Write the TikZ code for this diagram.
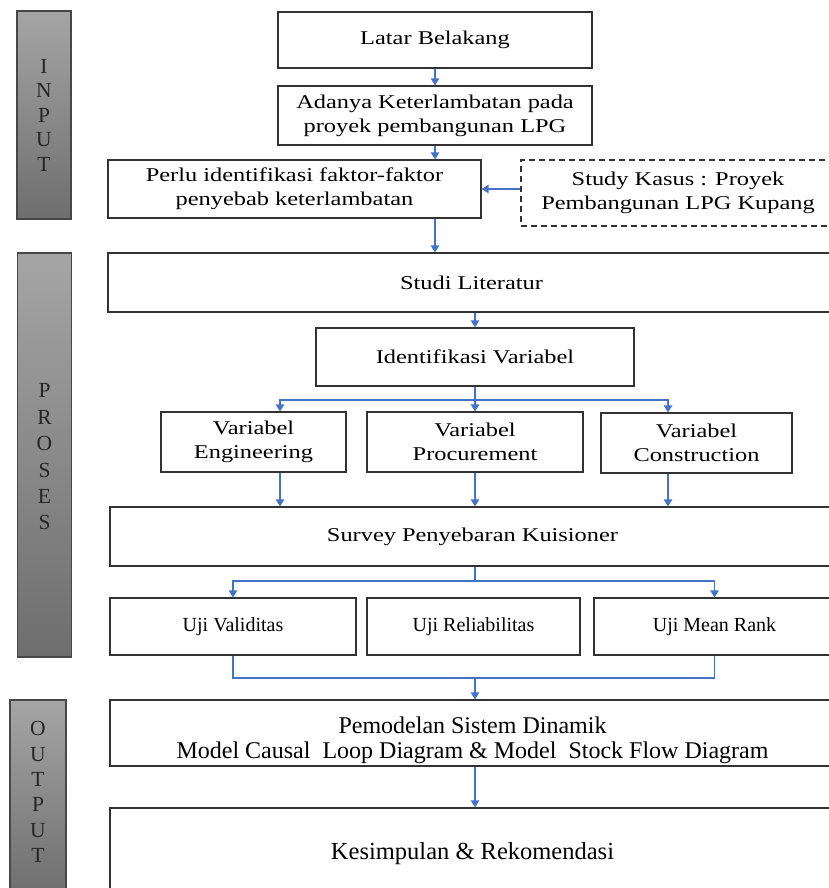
\documentclass[tikz,border=0pt]{standalone}
\usepackage{fontspec}
\setmainfont{Liberation Serif}
\newfontfamily\widefont{Liberation Serif}[FakeStretch=1.25]
\usetikzlibrary{arrows.meta,calc}
\definecolor{flowblue}{RGB}{68,114,196}
\definecolor{boxline}{RGB}{50,50,50}
\definecolor{bartop}{RGB}{165,165,165}
\definecolor{barbot}{RGB}{110,110,110}
\begin{document}
\begin{tikzpicture}[x=1pt,y=-1pt,
  box/.style={draw=boxline, line width=1.2pt, rectangle, inner sep=0pt, align=center, fill=white,
    font={\widefont\fontsize{19.5}{24}\selectfont}},
  plainbox/.style={box, font={\fontsize{24}{26}\selectfont}},
  ujibox/.style={box, font={\fontsize{20}{24}\selectfont}},
  dashbox/.style={box, dash pattern=on 6pt off 4pt},
  sidebar/.style={draw=boxline!90, line width=1.2pt, rectangle, inner sep=0pt,
    top color=bartop, bottom color=barbot, minimum width=54pt},
  barletters/.style={align=center, inner sep=0pt, font={\fontsize{21.5}{24.5}\selectfont}, text=black!85},
  conn/.style={draw=flowblue, line width=1.3pt},
  arr/.style={conn, -{Triangle[length=7pt,width=8.5pt]}}
]
\useasboundingbox (0,0) rectangle (829,888);

% side bars
\node[sidebar, minimum height=208pt] (binput) at (44,115) {};
\node[barletters] (tinput) at (44,115) {I\\N\\P\\U\\T};
\node[sidebar, minimum height=404pt] (bproses) at (44.5,455) {};
\node[barletters, font={\fontsize{21.5}{26.4}\selectfont}] (tproses) at (44.5,457) {P\\R\\O\\S\\E\\S};
\node[sidebar, minimum width=56pt, minimum height=195pt] (boutput) at (38,797.5) {};
\node[barletters, font={\fontsize{21.5}{25.4}\selectfont}] (toutput) at (38,792) {O\\U\\T\\P\\U\\T};

% main boxes
\node[box, minimum width=314pt, minimum height=56pt] (latar) at (435,40) {Latar Belakang};
\node[box, minimum width=314pt, minimum height=59pt] (adanya) at (435,115.5) {Adanya Keterlambatan pada\\proyek pembangunan LPG};
\node[box, minimum width=373pt, minimum height=58pt] (perlu) at (294.5,189) {Perlu identifikasi faktor-faktor\\penyebab keterlambatan};
\node[dashbox, minimum width=314pt, minimum height=66pt] (study) at (678,193) {Study Kasus : Proyek\\Pembangunan LPG Kupang};
\node[box, minimum width=727pt, minimum height=59pt] (studi) at (471.5,282.5) {Studi Literatur};
\node[box, minimum width=318pt, minimum height=58pt] (ident) at (475,357) {Identifikasi Variabel};
\node[box, minimum width=185pt, minimum height=60pt] (eng) at (253.5,442) {Variabel\\Engineering};
\node[box, minimum width=216pt, minimum height=60pt] (proc) at (475,442) {Variabel\\Procurement};
\node[box, minimum width=191pt, minimum height=60pt] (cons) at (696.5,443) {Variabel\\Construction};
\node[box, minimum width=725pt, minimum height=59pt] (survey) at (472.5,536.5) {Survey Penyebaran Kuisioner};
\node[ujibox, minimum width=246pt, minimum height=57pt] (ujiv) at (233,626.5) {Uji Validitas};
\node[ujibox, minimum width=213pt, minimum height=57pt] (ujir) at (473.5,626.5) {Uji Reliabilitas};
\node[ujibox, minimum width=241pt, minimum height=57pt] (ujim) at (714.5,626.5) {Uji Mean Rank};
\node[plainbox, minimum width=725pt, minimum height=66pt, text depth=0pt] (pem) at (472.5,733) {\raisebox{4pt}{\begin{tabular}{@{}c@{}}Pemodelan Sistem Dinamik\\[-1pt]Model Causal\ \ Loop Diagram \& Model\ \ Stock Flow Diagram\end{tabular}}};
\node[plainbox, font={\fontsize{24.5}{26}\selectfont}, minimum width=725pt, minimum height=91pt] (kes) at (472.5,853.5) {Kesimpulan \& Rekomendasi};

% bus points
\coordinate (busA) at (475,400);
\coordinate (busB) at (475,581);
\coordinate (busC) at (475,678);

% connectors
\draw[arr] (latar.south) -- (adanya.north);
\draw[arr] (adanya.south) -- (adanya.south |- perlu.north);
\draw[arr] (perlu.south -| adanya.south) -- (adanya.south |- studi.north);
\draw[arr] (study.west |- perlu.east) -- (perlu.east);
\draw[arr] (studi.south -| ident.north) -- (ident.north);

\draw[conn] (ident.south) -- (busA);
\draw[arr] (busA) -| ([xshift=26.5pt]eng.north);
\draw[arr] (busA) -- (proc.north);
\draw[arr] (busA) -| ([xshift=-28.5pt]cons.north);

\draw[arr] ([xshift=26.5pt]eng.south) -- ([xshift=26.5pt]eng.south |- survey.north);
\draw[arr] (proc.south) -- (proc.south |- survey.north);
\draw[arr] ([xshift=-28.5pt]cons.south) -- ([xshift=-28.5pt]cons.south |- survey.north);

\draw[conn] (survey.south -| busB) -- (busB);
\draw[arr] (busB) -| (ujiv.north);
\draw[arr] (busB) -| (ujim.north);

\draw[conn] (ujiv.south) |- (busC) -| (ujim.south);
\draw[arr] (busC) -- (busC |- pem.north);
\draw[arr] (pem.south -| busC) -- (busC |- kes.north);
\end{tikzpicture}
\end{document}
